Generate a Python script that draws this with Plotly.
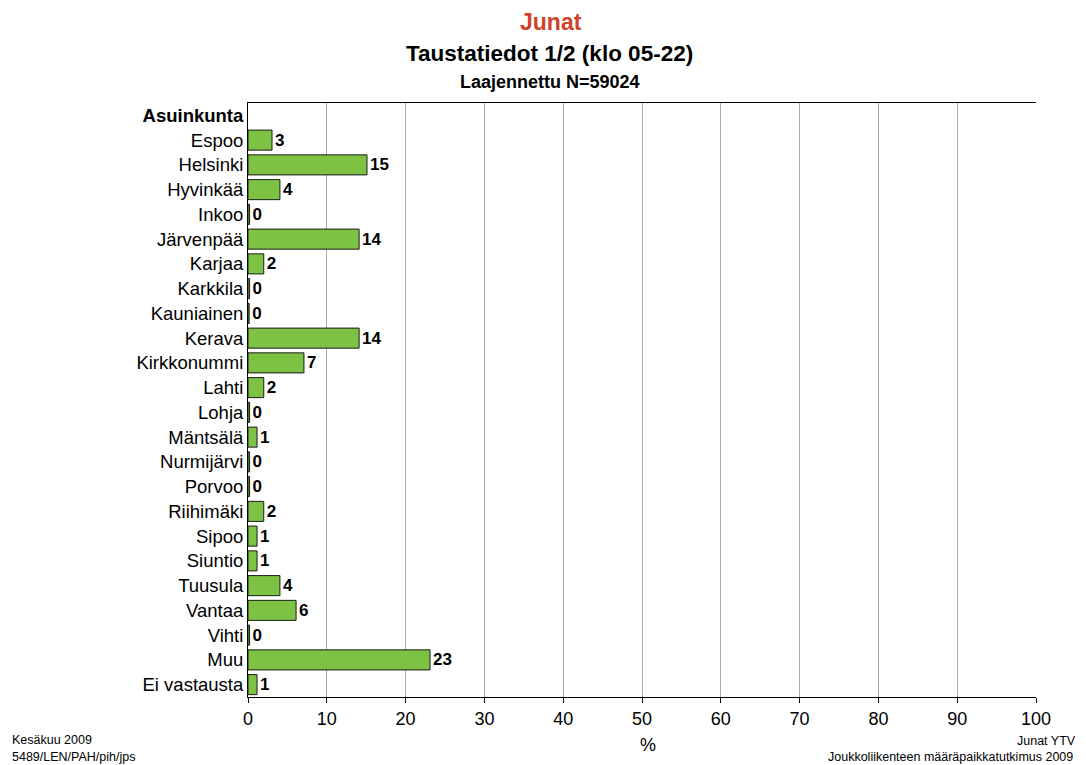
import plotly.graph_objects as go

categories = ["Asuinkunta", "Espoo", "Helsinki", "Hyvinkää", "Inkoo", "Järvenpää", "Karjaa",
              "Karkkila", "Kauniainen", "Kerava", "Kirkkonummi", "Lahti", "Lohja", "Mäntsälä",
              "Nurmijärvi", "Porvoo", "Riihimäki", "Sipoo", "Siuntio", "Tuusula", "Vantaa",
              "Vihti", "Muu", "Ei vastausta"]
values = [None, 3.05, 15.1, 4.05, 0.2, 14.1, 2.0, 0.2, 0.15, 14.1, 7.1, 2.0, 0.2, 1.15,
          0.2, 0.2, 2.0, 1.15, 1.15, 4.05, 6.1, 0.2, 23.1, 1.15]
labels = ["", "3", "15", "4", "0", "14", "2", "0", "0", "14", "7", "2", "0", "1",
          "0", "0", "2", "1", "1", "4", "6", "0", "23", "1"]
x_ticks = [0, 10, 20, 30, 40, 50, 60, 70, 80, 90, 100]

ticktext = ["<b>Asuinkunta</b>"] + categories[1:]

TOP, BOT = 103, 697
H = BOT - TOP


def py(p):
    return (BOT - p) / H


fig = go.Figure()
fig.add_trace(go.Bar(
    y=categories, x=values, orientation="h",
    marker=dict(color="#7DC242", line=dict(color="#1a1a1a", width=1)),
    text=labels, textposition="outside", cliponaxis=False,
    textfont=dict(family="Liberation Sans, Arial", size=17, color="black"),
    texttemplate="<b>%{text}</b>",
    hoverinfo="skip",
))

fig.update_layout(
    width=1086, height=765,
    margin=dict(l=248, r=50, t=TOP, b=765 - BOT),
    paper_bgcolor="white", plot_bgcolor="white",
    bargap=0.19,
    showlegend=False,
    font=dict(family="Liberation Sans, Arial", color="black"),
    xaxis=dict(
        range=[0, 100], tickvals=x_ticks, ticktext=[str(t) for t in x_ticks],
        showgrid=True, gridcolor="#a8a8a8", gridwidth=1,
        showline=True, linecolor="black", linewidth=1, mirror=True,
        ticks="outside", ticklen=5, tickcolor="black",
        tickfont=dict(size=18), zeroline=False, fixedrange=True,
    ),
    yaxis=dict(
        categoryorder="array", categoryarray=categories,
        autorange="reversed",
        tickvals=categories, ticktext=ticktext,
        showline=True, linecolor="black", linewidth=1,
        ticks="", tickfont=dict(size=18.5), showgrid=False,
    ),
    annotations=[
        dict(text="<b>Junat</b>", x=0.385, y=py(22), xref="paper", yref="paper",
             showarrow=False, font=dict(size=23, color="#D0402B"), xanchor="center", yanchor="middle"),
        dict(text="<b>Taustatiedot 1/2 (klo 05-22)</b>", x=0.383, y=py(53), xref="paper", yref="paper",
             showarrow=False, font=dict(size=22.5), xanchor="center", yanchor="middle"),
        dict(text="<b>Laajennettu N=59024</b>", x=0.383, y=py(82), xref="paper", yref="paper",
             showarrow=False, font=dict(size=18), xanchor="center", yanchor="middle"),
        dict(text="%", x=0.507, y=py(745), xref="paper", yref="paper",
             showarrow=False, font=dict(size=18), xanchor="center", yanchor="middle"),
        dict(text="Kesäkuu 2009", x=(10 - 248) / 788, y=py(740), xref="paper", yref="paper",
             showarrow=False, font=dict(size=12.5), xanchor="left", yanchor="middle"),
        dict(text="5489/LEN/PAH/pih/jps", x=(10 - 248) / 788, y=py(757), xref="paper", yref="paper",
             showarrow=False, font=dict(size=12.5), xanchor="left", yanchor="middle"),
        dict(text="Junat YTV", x=(1078 - 248) / 788, y=py(741), xref="paper", yref="paper",
             showarrow=False, font=dict(size=12.5), xanchor="right", yanchor="middle"),
        dict(text="Joukkoliikenteen määräpaikkatutkimus 2009", x=(1075 - 248) / 788, y=py(757),
             xref="paper", yref="paper",
             showarrow=False, font=dict(size=12.5), xanchor="right", yanchor="middle"),
    ],
)

fig.write_html("out.html", config={"displayModeBar": False},
               post_script="document.body.style.margin='0';document.body.style.overflow='hidden';")
